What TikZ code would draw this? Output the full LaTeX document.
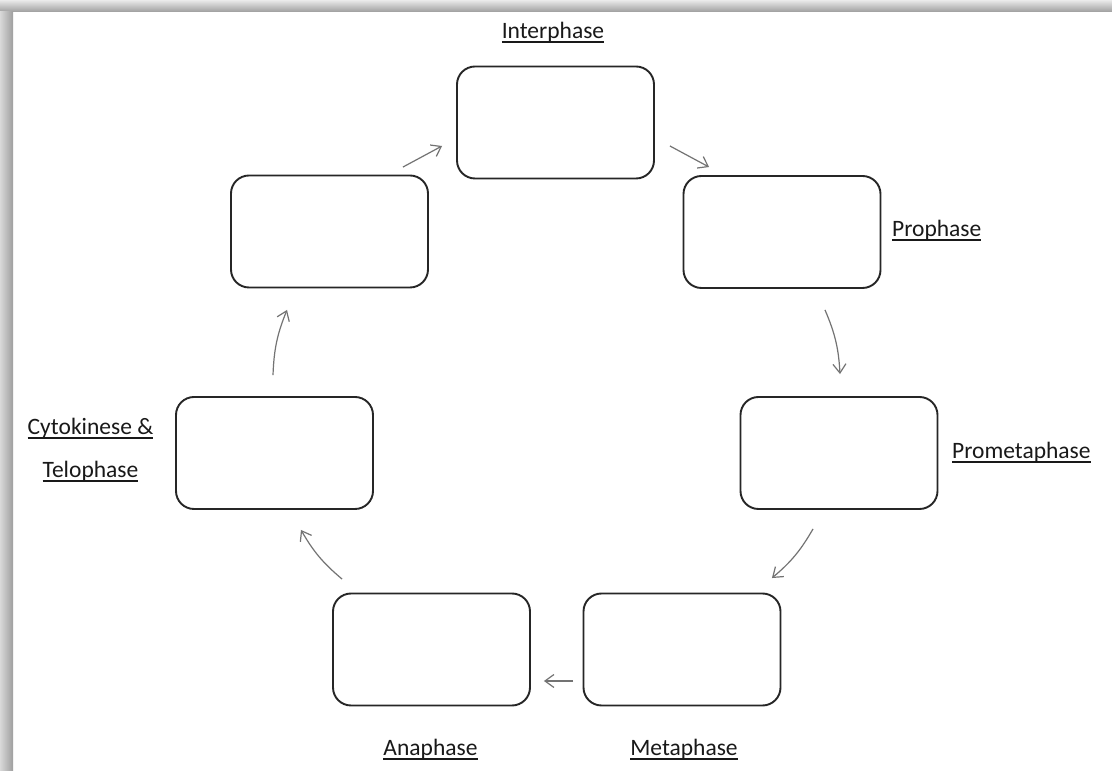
\documentclass[tikz,border=0pt]{standalone}
\usepackage{fontspec}
\setmainfont{Carlito}
\usetikzlibrary{arrows.meta}

% underlined label text
\newcommand{\phaseul}[1]{\setbox0=\hbox{#1}\rlap{\rule[-3.6pt]{\wd0}{1.8pt}}\box0}

\begin{document}
\begin{tikzpicture}[x=1pt,y=1pt]
		\tikzset{phase/.style={shape = rectangle, draw = black!85, line width = 1.9pt,
				rounded corners = 18pt, minimum width = 197pt, minimum height = 112pt, inner sep = 0pt}}
		\tikzset{phasename/.style={font = \fontsize{23.5}{28}\selectfont, text = black!90, inner sep = 0pt}}
		\tikzset{arr/.style={draw = black!55, line width = 1.2pt,
				-{Straight Barb[length = 9pt, width = 13pt, line width = 1.2pt]}}}
		%frame
		\useasboundingbox (0,0) rectangle (1112,771);
		\fill[white] (0,0) rectangle (1112,771);
		\shade[top color = black!8, bottom color = black!38] (0,759) rectangle (1112,771);
		\shade[left color = black!15, right color = black!38] (0,0) rectangle (13,759);
		%boxes
		\node[phase] (inter) at (555.5, 648.5) {};
		\node[phase] (pro) at (782, 539) {};
		\node[phase] (prometa) at (839, 318) {};
		\node[phase] (meta) at (682, 121.5) {};
		\node[phase] (ana) at (431.5, 121.5) {};
		\node[phase] (cyto) at (274.5, 318) {};
		\node[phase] (blank) at (329.5, 539.5) {};
		%labels
		\node[phasename, anchor = base] (intertext) at (553, 732) {\phaseul{Interphase}};
		\node[phasename, anchor = base west] (protext) at (892, 534) {\phaseul{Prophase}};
		\node[phasename, anchor = base west] (prometatext) at (952, 312) {\phaseul{Prometaphase}};
		\node[phasename, anchor = base] (metatext) at (684, 15) {\phaseul{Metaphase}};
		\node[phasename, anchor = base] (anatext) at (430.5, 15) {\phaseul{Anaphase}};
		\node[phasename, anchor = base] (cytotext) at (90.5, 336) {\phaseul{Cytokinese \&}};
		\node[phasename, anchor = base] (telotext) at (90.5, 293) {\phaseul{Telophase}};
		%arrows
		\draw[arr] ([shift={(-26,7.5)}]blank.north east) -- ([shift={(-14,-23.5)}]inter.west);
		\draw[arr] ([shift={(15,-23.5)}]inter.east) -- ([shift={(26.5,8)}]pro.north west);
		\draw[arr] ([shift={(43,-21)}]pro.south) to[bend left = 10] ([shift={(1,22)}]prometa.north);
		\draw[arr] ([shift={(-26,-19)}]prometa.south) to[bend left = 10] ([shift={(-9.5,14.5)}]meta.north east);
		\draw[arr] ([shift={(-9.5,-31.5)}]meta.west) -- ([shift={(13,-31.5)}]ana.east);
		\draw[arr] ([shift={(10,13.5)}]ana.north west) to[bend left = 10] ([shift={(26.5,-20)}]cyto.south);
		\draw[arr] ([shift={(-1.5,21)}]cyto.north) to[bend left = 10] ([shift={(-42.5,-21.5)}]blank.south);
\end{tikzpicture}
\end{document}
